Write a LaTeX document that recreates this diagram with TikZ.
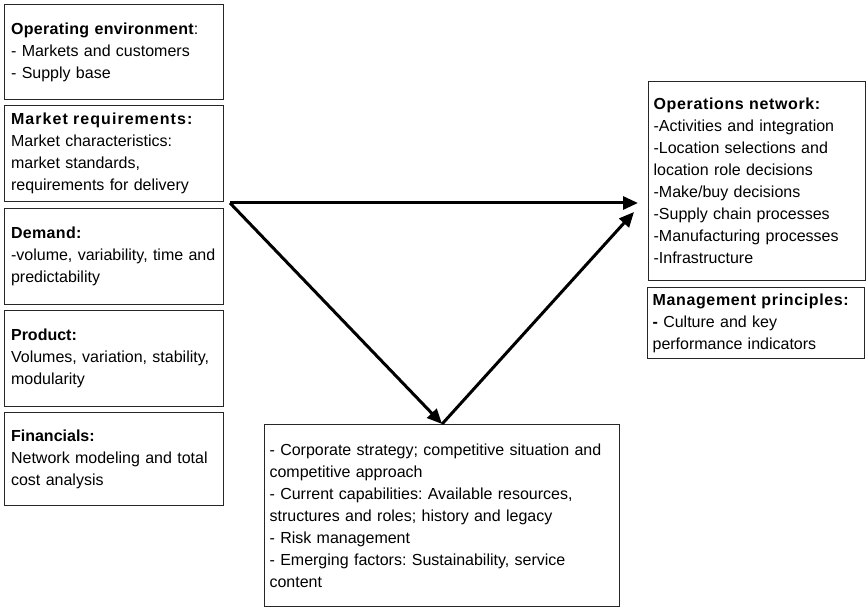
\documentclass[tikz,border=0pt]{standalone}
\usepackage{fontspec}
\setmainfont{Liberation Sans}
\newfontfamily\hdfont{Liberation Sans}[LetterSpace=4]
\newfontfamily\hdfontw{Liberation Sans}[LetterSpace=6.5]
\newfontfamily\hdfontb{Liberation Sans}[LetterSpace=2]
\usetikzlibrary{arrows.meta}
\frenchspacing
\begin{document}
\frenchspacing
\begin{tikzpicture}[x=1bp,y=-1bp,
  box/.style={draw=black!85, line width=1.2bp, anchor=north west, align=left,
    inner xsep=6.5bp, inner ysep=0pt, font=\fontsize{16bp}{22bp}\selectfont\frenchspacing},
  arr/.style={line width=3bp, -{Triangle[length=15bp,width=13bp]}}
]
\useasboundingbox (0,0) rectangle (867,608);
\fill[white] (0,0) rectangle (867,608);

\node[box, minimum width=219bp, minimum height=95bp, text width=206bp] (env) at (4,4)
  {{\hdfontb\bfseries Operating environment}:\\- Markets and customers\\- Supply base};
\node[box, minimum width=219bp, minimum height=96bp, text width=206bp] (mkt) at (4,105)
  {{\hdfontw\bfseries Market requirements:}\\Market characteristics:\\market standards,\\requirements for delivery};
\node[box, minimum width=219bp, minimum height=96bp, text width=206bp] (dem) at (4,208)
  {{\hdfontb\bfseries Demand:}\\-volume, variability, time and\\predictability};
\node[box, minimum width=219bp, minimum height=96bp, text width=206bp] (prod) at (4,310)
  {{\bfseries Product:}\\Volumes, variation, stability,\\modularity};
\node[box, minimum width=219bp, minimum height=93bp, text width=206bp] (fin) at (4,412)
  {{\bfseries Financials:}\\Network modeling and total\\cost analysis};

\node[box, inner xsep=5bp, minimum width=217bp, minimum height=199bp, text width=207bp] (ops) at (648,81)
  {{\hdfont\bfseries Operations network:}\\-Activities and integration\\-Location selections and\\location role decisions\\-Make/buy decisions\\-Supply chain processes\\-Manufacturing processes\\-Infrastructure};
\node[box, inner xsep=5bp, minimum width=217bp, minimum height=71bp, text width=207bp] (mgmt) at (647,287)
  {{\hdfont\bfseries Management principles:}\\{\bfseries -} Culture and key\\performance indicators};

\node[box, inner xsep=5bp, minimum width=355bp, minimum height=182bp, text width=345bp] (strat) at (264,424)
  {- Corporate strategy; competitive situation and\\competitive approach\\- Current capabilities: Available resources,\\structures and roles; history and legacy\\- Risk management\\- Emerging factors: Sustainability, service\\content};

\coordinate (src) at (230,203);
\coordinate (t1) at (638,203);
\coordinate (t2) at (634,212);
\draw[arr] (src) -- (t1);
\draw[arr] (src) -- (strat.north);
\draw[arr] (strat.north) -- (t2);
\end{tikzpicture}
\end{document}
